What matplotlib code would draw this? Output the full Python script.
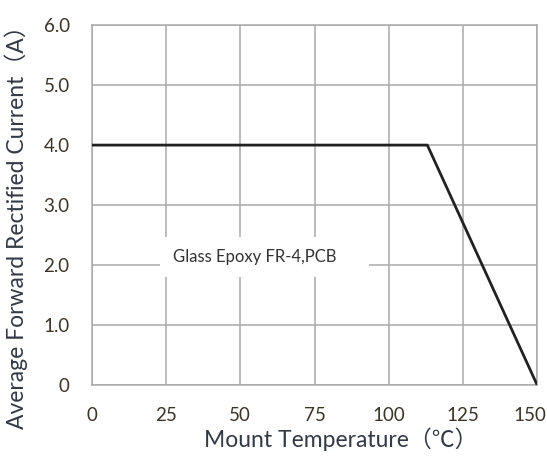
import matplotlib
matplotlib.use("Agg")
import matplotlib.pyplot as plt
from matplotlib.patches import Rectangle
from matplotlib.transforms import offset_copy

temps = [0, 113, 150]
current = [4.0, 4.0, 0.0]
x_ticks = [0, 25, 50, 75, 100, 125, 150]
y_ticks = [0, 1, 2, 3, 4, 5, 6]
y_tick_labels = ["0", "1.0", "2.0", "3.0", "4.0", "5.0", "6.0"]
note = "Glass Epoxy FR-4,PCB"

fams = ["Lato", "Noto Sans CJK SC", "DejaVu Sans"]

fig = plt.figure(figsize=(5.47, 4.57), dpi=100)
ax = fig.add_axes([0.168, 0.1575, 0.814, 0.7875])
ax.set_xlim(0, 150)
ax.set_ylim(0, 6)
ax.set_xticks(x_ticks)
ax.set_yticks(y_ticks)
ax.set_yticklabels(y_tick_labels)
ax.grid(True, color="#aaaaaa", linewidth=1.1)
ax.set_axisbelow(True)
for s in ax.spines.values():
    s.set_color("#aaaaaa")
    s.set_linewidth(1.1)
ax.tick_params(length=0, labelsize=13.5, labelcolor="#3d3428")
ax.tick_params(axis="x", pad=15.5)
ax.tick_params(axis="y", pad=16)
for lab in ax.get_xticklabels() + ax.get_yticklabels():
    lab.set_family(fams)
last = ax.get_xticklabels()[-1]
last.set_transform(offset_copy(last.get_transform(), fig=fig, x=-7, y=0, units="dots"))

ax.plot(temps, current, color="#222222", linewidth=2.0, zorder=3)

ax.add_patch(Rectangle((23, 1.8), 70.2, 0.67, facecolor="white", edgecolor="none", zorder=2.5))
ax.text(55, 2.13, note, ha="center", va="center", fontsize=12,
        family=fams, color="#333333", zorder=4)

ax.set_xlabel("Mount Temperature（℃）", fontsize=16.5, family=fams, color="#333a45")
ax.set_ylabel("Average Forward Rectified Current（A）", fontsize=16.5, family=fams, color="#333a45")
ax.xaxis.set_label_coords(0.56, -0.117)
ax.yaxis.set_label_coords(-0.143, 0.453)

fig.savefig("out.png", dpi=100)
